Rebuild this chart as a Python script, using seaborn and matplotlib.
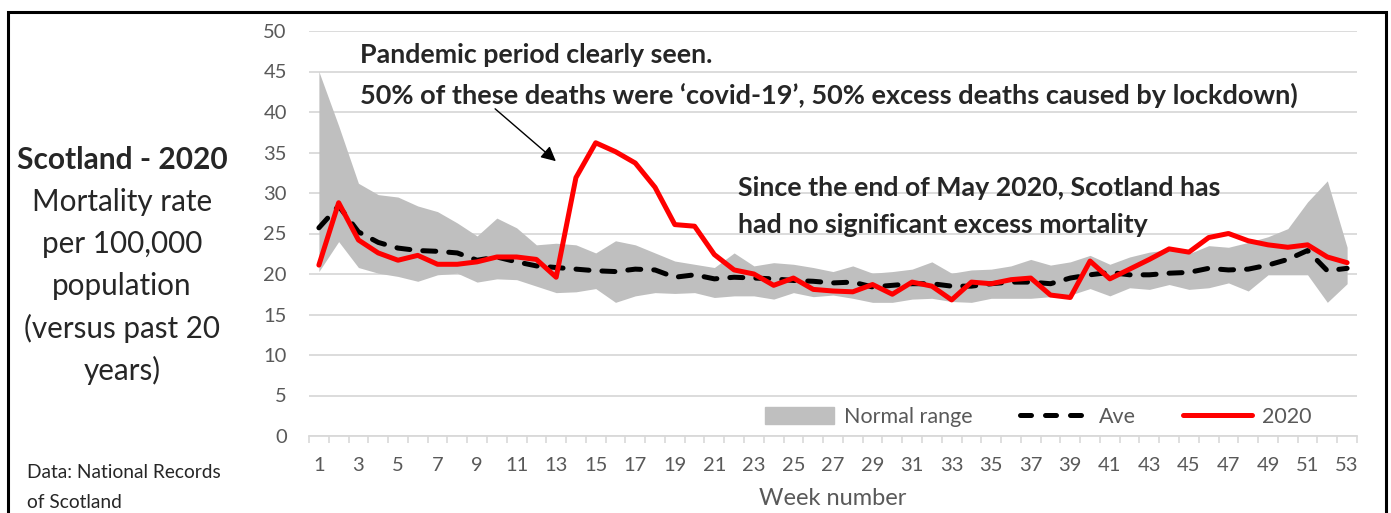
import numpy as np
import pandas as pd
import matplotlib
matplotlib.use("Agg")
import matplotlib.pyplot as plt
import matplotlib.patches as mpatches
from matplotlib.lines import Line2D
import seaborn as sns

# --- data ---
weeks = list(range(1, 54))

rate_2020 = [21.1, 28.8, 24.2, 22.6, 21.7, 22.3, 21.2, 21.2, 21.5, 22.1,
             22.1, 21.8, 19.6, 31.9, 36.2, 35.1, 33.7, 30.7, 26.1, 25.9,
             22.4, 20.5, 20.0, 18.6, 19.5, 18.1, 17.9, 17.8, 18.7, 17.5,
             19.0, 18.5, 16.8, 19.0, 18.8, 19.3, 19.5, 17.4, 17.1, 21.6,
             19.4, 20.6, 21.8, 23.1, 22.7, 24.5, 25.0, 24.1, 23.6, 23.3,
             23.6, 22.1, 21.4]

rate_ave = [25.7, 28.4, 25.2, 23.9, 23.2, 22.9, 22.8, 22.6, 21.7, 22.1,
            21.5, 21.0, 20.8, 20.6, 20.4, 20.3, 20.6, 20.5, 19.6, 19.9,
            19.4, 19.6, 19.5, 19.4, 19.2, 19.1, 18.9, 19.0, 18.4, 18.6,
            18.8, 18.8, 18.5, 18.5, 18.8, 19.0, 19.0, 18.8, 19.5, 19.9,
            20.2, 19.9, 19.9, 20.1, 20.2, 20.7, 20.5, 20.6, 21.1, 21.8,
            22.9, 20.4, 20.7]

range_high = [45.0, 38.3, 31.2, 29.8, 29.5, 28.4, 27.7, 26.3, 24.7, 26.9,
              25.7, 23.6, 23.8, 23.6, 22.6, 24.1, 23.6, 22.6, 21.6, 21.2,
              20.8, 22.6, 21.0, 21.4, 21.2, 20.8, 20.3, 21.0, 20.1, 20.3,
              20.6, 21.5, 20.1, 20.5, 20.6, 21.0, 21.8, 21.1, 21.5, 22.3,
              21.2, 22.1, 22.7, 23.0, 22.5, 23.5, 23.3, 23.9, 24.6, 25.6,
              28.9, 31.5, 23.3]

range_low = [20.3, 24.0, 20.8, 20.1, 19.7, 19.1, 19.9, 20.1, 19.0, 19.4,
             19.3, 18.5, 17.7, 17.8, 18.2, 16.5, 17.3, 17.7, 17.6, 17.7,
             17.1, 17.3, 17.3, 16.9, 17.7, 17.2, 17.4, 17.0, 16.5, 16.5,
             16.9, 17.0, 16.6, 16.5, 17.0, 17.0, 17.0, 17.2, 17.4, 18.2,
             17.3, 18.3, 18.1, 18.7, 18.1, 18.3, 18.9, 17.9, 19.9, 19.9,
             19.9, 16.5, 18.8]

df = pd.DataFrame({"week": weeks, "2020": rate_2020, "Ave": rate_ave,
                   "high": range_high, "low": range_low})

# --- figure ---
W, H = 1391, 513
sns.set_theme(style="white")
plt.rcParams["font.family"] = ["Lato", "DejaVu Sans"]

fig = plt.figure(figsize=(W / 100, H / 100), dpi=100)
ax = fig.add_axes([309 / W, 1 - 436 / H, (1357 - 309) / W, (436 - 31) / H])

grey_txt = "#595959"
grid_c = "#d9d9d9"

ax.fill_between(df["week"], df["low"], df["high"], color="#bfbfbf", lw=0, zorder=2)
sns.lineplot(data=df, x="week", y="Ave", ax=ax, color="black", lw=3.6, zorder=3)
ax.lines[-1].set_dashes([2.6, 2.6])
ax.lines[-1].set_dash_capstyle("round")
sns.lineplot(data=df, x="week", y="2020", ax=ax, color="#ff0000", lw=3.6, zorder=4)

ax.set_xlim(0.5, 53.5)
ax.set_ylim(0, 50)
ax.set_yticks(range(0, 51, 5))
ax.set_xticks(range(1, 54, 2))
ax.set_xticks(np.arange(0.5, 54, 1), minor=True)
ax.yaxis.grid(True, color=grid_c, lw=1.3, zorder=0)
ax.set_axisbelow(True)
for s in ["top", "left", "right"]:
    ax.spines[s].set_visible(False)
ax.spines["bottom"].set_color(grid_c)
ax.spines["bottom"].set_linewidth(1.3)
ax.tick_params(axis="y", length=0, pad=16, labelsize=14.5, labelcolor=grey_txt)
ax.tick_params(axis="x", which="major", length=0, pad=15, labelsize=14.5,
               labelcolor=grey_txt)
ax.tick_params(axis="x", which="minor", length=5, width=1.2, color=grid_c, bottom=True)
ax.set_xlabel("Week number", fontsize=17, color=grey_txt, labelpad=10)
ax.set_ylabel("")

# legend
handles = [mpatches.Patch(color="#bfbfbf"),
           Line2D([], [], color="black", lw=3.6, dashes=[2.2, 2.8],
                  dash_capstyle="round"),
           Line2D([], [], color="#ff0000", lw=3.6)]
ax.legend(handles, ["Normal range", "Ave", "2020"], loc="center right",
          bbox_to_anchor=(0.957, 0.047), ncol=3, frameon=False, fontsize=15.5,
          labelcolor=grey_txt, handlelength=3.2, handleheight=0.8,
          columnspacing=2.2, handletextpad=0.47, borderpad=0, borderaxespad=0)

# annotations
def px(x, y):
    return x / W, 1 - y / H

fig.text(*px(360, 55), "Pandemic period clearly seen.", fontsize=19.3,
         fontweight="bold", va="center", ha="left")
fig.text(*px(360, 95), "50% of these deaths were \u2018covid-19\u2019, 50% excess deaths caused by lockdown)",
         fontsize=19.5, fontweight="bold", va="center", ha="left")
fig.text(*px(738, 188), "Since the end of May 2020, Scotland has", fontsize=19.3,
         fontweight="bold", va="center", ha="left")
fig.text(*px(738, 225), "had no significant excess mortality", fontsize=19.3,
         fontweight="bold", va="center", ha="left")

ax.annotate("", xy=px(558, 163), xycoords="figure fraction",
            xytext=px(493, 107), textcoords="figure fraction",
            arrowprops=dict(arrowstyle="-|>", color="black", lw=1.0,
                            mutation_scale=22))

# left side title block
fig.text(*px(122, 160), "Scotland - 2020", fontsize=21.5, fontweight="bold",
         ha="center", va="center")
for i, line in enumerate(["Mortality rate", "per 100,000", "population",
                          "(versus past 20", "years)"]):
    fig.text(*px(122, 202 + i * 42), line, fontsize=21.3, ha="center", va="center")

fig.text(*px(27, 473), "Data: National Records", fontsize=13.8, ha="left", va="center")
fig.text(*px(27, 502), "of Scotland", fontsize=13.8, ha="left", va="center")

# outer frame
fig.patches.append(mpatches.Rectangle((8 / W, -0.05), (1386 - 8) / W, 1.05 - 12 / H,
                                      transform=fig.transFigure, fill=False,
                                      edgecolor="black", lw=2.2, clip_on=False))

fig.savefig("out.png", dpi=100)
